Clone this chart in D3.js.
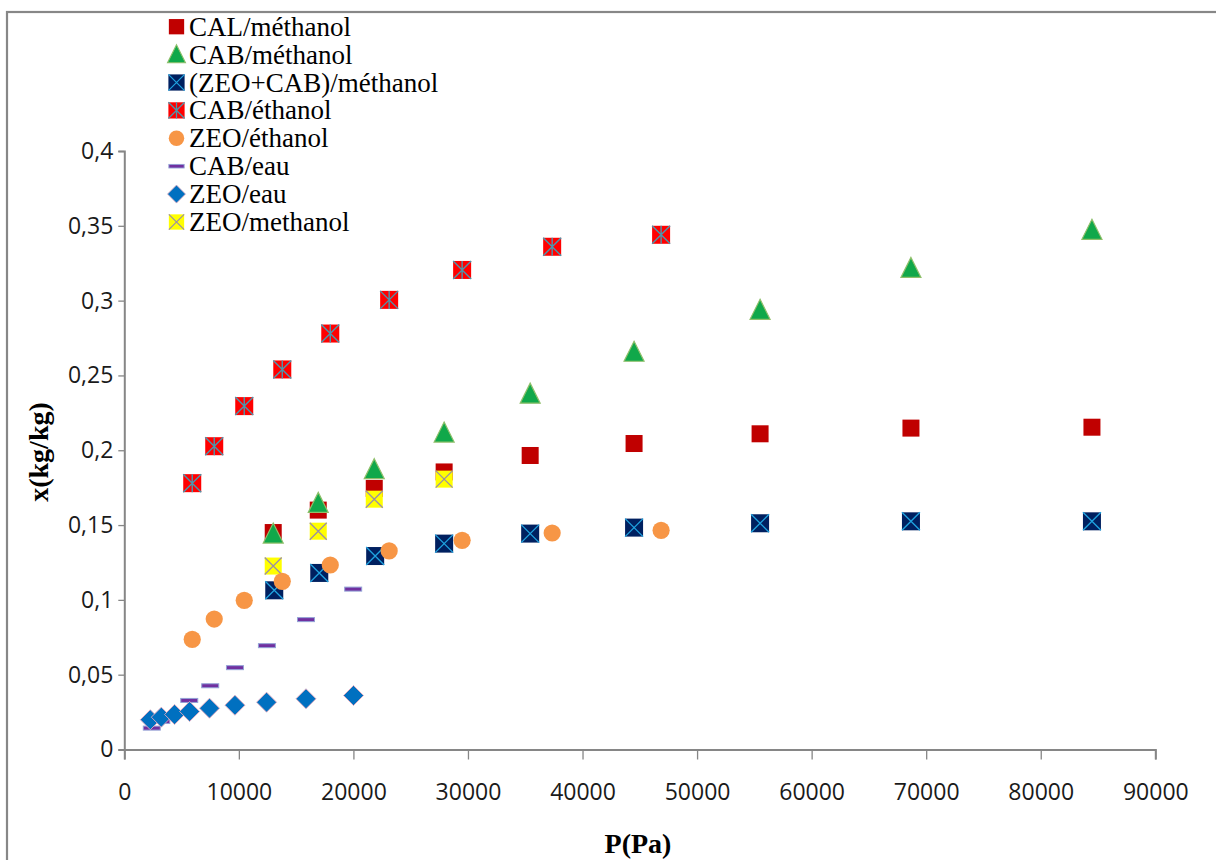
<!DOCTYPE html>
<html>
<head>
<meta charset="utf-8">
<script src="https://cdn.jsdelivr.net/npm/d3@7"></script>
<style>
  html, body { margin: 0; padding: 0; background: #fff; }
  svg { display: block; }
</style>
</head>
<body>
<svg id="chart" width="1216" height="860"></svg>
<script>
// Adsorption isotherms: uptake x (kg/kg) against pressure P (Pa)

const xTickValues = [0, 10000, 20000, 30000, 40000, 50000, 60000, 70000, 80000, 90000];
const xTickLabels = ["0", "10000", "20000", "30000", "40000", "50000", "60000", "70000", "80000", "90000"];
const yTickValues = [0, 0.05, 0.1, 0.15, 0.2, 0.25, 0.3, 0.35, 0.4];
const yTickLabels = ["0", "0,05", "0,1", "0,15", "0,2", "0,25", "0,3", "0,35", "0,4"];

// CAL / méthanol
const calMethP = [13000, 16930, 21820, 27920, 35430, 44500, 55500, 68670, 84470];
const calMethX = [0.145, 0.160, 0.1745, 0.1855, 0.1965, 0.2045, 0.211, 0.2148, 0.2154];

// CAB / méthanol
const cabMethP = [13000, 16930, 21820, 27920, 35430, 44500, 55500, 68670, 84470];
const cabMethX = [0.144, 0.1645, 0.187, 0.2115, 0.2375, 0.2655, 0.2935, 0.3215, 0.347];

// (ZEO+CAB) / méthanol
const zeoCabMethP = [13090, 17020, 21900, 27920, 35430, 44500, 55500, 68670, 84470];
const zeoCabMethX = [0.1064, 0.118, 0.1293, 0.1376, 0.1443, 0.1483, 0.1512, 0.1525, 0.1525];

// CAB / éthanol
const cabEthP = [5930, 7850, 10470, 13790, 17980, 23120, 29490, 37350, 46860];
const cabEthX = [0.178, 0.2027, 0.2295, 0.254, 0.278, 0.3005, 0.3205, 0.336, 0.344];

// ZEO / éthanol
const zeoEthP = [5930, 7850, 10470, 13790, 17980, 23120, 29490, 37350, 46860];
const zeoEthX = [0.0736, 0.0872, 0.0997, 0.1124, 0.1233, 0.1327, 0.1398, 0.1447, 0.1465];

// CAB / eau
const cabEauP = [2400, 3230, 5670, 7500, 9660, 12450, 15860, 19980];
const cabEauX = [0.0143, 0.0187, 0.0328, 0.0426, 0.0547, 0.0694, 0.0868, 0.1072];

// ZEO / eau
const zeoEauP = [2270, 3230, 4390, 5700, 7440, 9660, 12420, 15860, 20010];
const zeoEauX = [0.0199, 0.0216, 0.0234, 0.0254, 0.0276, 0.0296, 0.0316, 0.0339, 0.0361];

// ZEO / methanol
const zeoMethP = [13000, 16930, 21820, 27920];
const zeoMethX = [0.1226, 0.1459, 0.1673, 0.1807];

const seriesNames = ["CAL/méthanol", "CAB/méthanol", "(ZEO+CAB)/méthanol", "CAB/éthanol",
                     "ZEO/éthanol", "CAB/eau", "ZEO/eau", "ZEO/methanol"];

const svg = d3.select("#chart");

// Outer chart frame
svg.append("rect")
  .attr("x", 7).attr("y", 12)
  .attr("width", 1400).attr("height", 1000)
  .attr("fill", "none").attr("stroke", "#878787").attr("stroke-width", 2.2);

const x = d3.scaleLinear().domain([0, 90000]).range([124.3, 1155.3]);
const y = d3.scaleLinear().domain([0, 0.4]).range([749.5, 151]);

const tickFont = "'Open Sans', sans-serif";

// Y axis
const yAxis = svg.append("g")
  .attr("transform", `translate(${x(0)},0)`)
  .call(d3.axisLeft(y).tickValues(yTickValues).tickSize(6).tickPadding(5)
    .tickFormat((d, i) => yTickLabels[i]));

// X axis
const xAxis = svg.append("g")
  .attr("transform", `translate(0,${y(0)})`)
  .call(d3.axisBottom(x).tickValues(xTickValues).tickSize(10).tickPadding(24)
    .tickFormat((d, i) => xTickLabels[i]));

[yAxis, xAxis].forEach(g => {
  g.select(".domain").attr("stroke", "#868686").attr("stroke-width", 2);
  g.selectAll(".tick line").attr("stroke", "#868686").attr("stroke-width", 1.3);
  g.selectAll(".tick text")
    .attr("fill", "#1a1a1a")
    .style("font-family", tickFont)
    .style("font-size", "23px");
});

// Axis titles
svg.append("text")
  .attr("x", 638).attr("y", 853)
  .attr("text-anchor", "middle")
  .style("font-family", "'Liberation Serif', 'Times New Roman', serif")
  .style("font-weight", "bold")
  .style("font-size", "28px")
  .text("P(Pa)");

svg.append("text")
  .attr("transform", "translate(48,452) rotate(-90)")
  .attr("text-anchor", "middle")
  .style("font-family", "'Liberation Serif', 'Times New Roman', serif")
  .style("font-weight", "bold")
  .style("font-size", "28px")
  .text("x(kg/kg)");

// Marker painters, each draws one symbol centred at (0,0)
const markers = {
  calSquare(g) {
    g.append("rect").attr("x", -8.5).attr("y", -8.5).attr("width", 17).attr("height", 17)
      .attr("fill", "#c00000");
  },
  triangle(g) {
    g.append("path").attr("d", "M0,-11 L10,9 L-10,9 Z")
      .attr("fill", "#10a84a").attr("stroke", "#8fbf6a").attr("stroke-width", 1.2)
      .attr("stroke-linejoin", "miter");
  },
  navyX(g) {
    g.append("rect").attr("x", -9).attr("y", -9).attr("width", 18).attr("height", 18)
      .attr("fill", "#002060");
    g.append("path").attr("d", "M-9,-9 L9,9 M9,-9 L-9,9")
      .attr("stroke", "#1fa3e0").attr("stroke-width", 1.3).attr("fill", "none");
  },
  redStar(g) {
    g.append("rect").attr("x", -9).attr("y", -9).attr("width", 18).attr("height", 18)
      .attr("fill", "#ff0000");
    g.append("path").attr("d", "M-9,-9 L9,9 M9,-9 L-9,9 M0,-9 L0,9")
      .attr("stroke", "#4b97ad").attr("stroke-width", 1.4).attr("fill", "none");
  },
  circle(g) {
    g.append("circle").attr("r", 8.6).attr("fill", "#f79646");
  },
  dash(g) {
    g.append("rect").attr("x", -8.5).attr("y", -2).attr("width", 17).attr("height", 4)
      .attr("fill", "#7030a0").attr("stroke", "#93a3d6").attr("stroke-width", 1);
  },
  diamond(g) {
    g.append("path").attr("d", "M0,-10 L10,0 L0,10 L-10,0 Z")
      .attr("fill", "#0070c0").attr("stroke", "#e2a9bd").attr("stroke-width", 0.9);
  },
  yellowX(g) {
    g.append("rect").attr("x", -8.5).attr("y", -8.5).attr("width", 17).attr("height", 17)
      .attr("fill", "#ffff00");
    g.append("path").attr("d", "M-8.5,-8.5 L8.5,8.5 M8.5,-8.5 L-8.5,8.5")
      .attr("stroke", "#9a8fa6").attr("stroke-width", 1.3).attr("fill", "none");
  }
};

const series = [
  { name: seriesNames[0], p: calMethP, v: calMethX, mark: "calSquare" },
  { name: seriesNames[1], p: cabMethP, v: cabMethX, mark: "triangle" },
  { name: seriesNames[2], p: zeoCabMethP, v: zeoCabMethX, mark: "navyX" },
  { name: seriesNames[3], p: cabEthP, v: cabEthX, mark: "redStar" },
  { name: seriesNames[4], p: zeoEthP, v: zeoEthX, mark: "circle" },
  { name: seriesNames[5], p: cabEauP, v: cabEauX, mark: "dash" },
  { name: seriesNames[6], p: zeoEauP, v: zeoEauX, mark: "diamond" },
  { name: seriesNames[7], p: zeoMethP, v: zeoMethX, mark: "yellowX" }
];

// Plot order: yellow squares sit beneath the orange circles
const drawOrder = [0, 1, 2, 3, 7, 4, 5, 6];
const plot = svg.append("g");
drawOrder.forEach(si => {
  const s = series[si];
  s.p.forEach((pv, i) => {
    const g = plot.append("g")
      .attr("transform", `translate(${x(pv)},${y(s.v[i])})`);
    markers[s.mark](g);
  });
});

// Legend
const legend = svg.append("g");
series.forEach((s, i) => {
  const cy = 26.7 + i * 27.9;
  const g = legend.append("g").attr("transform", `translate(176.5,${cy})`);
  const m = g.append("g").attr("transform", "scale(0.9)");
  markers[s.mark](m);
  legend.append("text")
    .attr("x", 189).attr("y", cy + 9)
    .style("font-family", "'Liberation Serif', 'Times New Roman', serif")
    .style("font-size", "27px")
    .attr("fill", "#000")
    .text(s.name);
});
</script>
</body>
</html>
